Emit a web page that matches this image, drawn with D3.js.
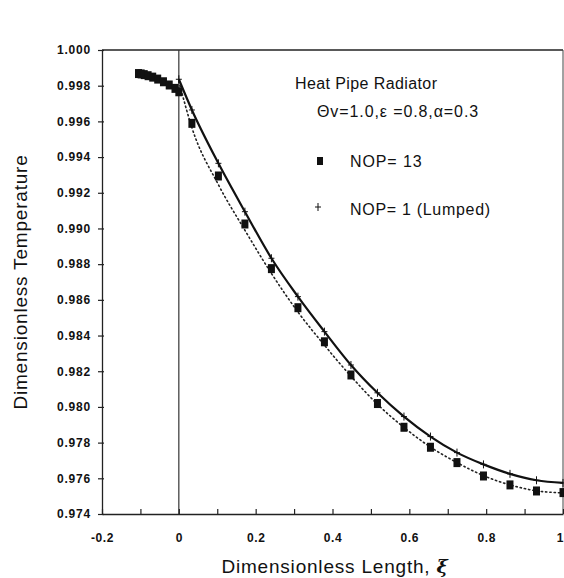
<!DOCTYPE html>
<html>
<head>
<meta charset="utf-8">
<script src="https://cdn.jsdelivr.net/npm/d3@7"></script>
<style>
  body { margin: 0; background: #fff; }
  svg { display: block; }
  text { font-family: "Liberation Sans", Arial, sans-serif; fill: #111; }
</style>
</head>
<body>
<svg id="chart" width="564" height="578"></svg>
<script>
// ---- data ----
const squareX = [-0.105, -0.098, -0.09, -0.08, -0.068, -0.055, -0.04, -0.025, -0.01,
                 0, 0.034, 0.103, 0.172, 0.241, 0.310, 0.379, 0.448, 0.517, 0.586, 0.655, 0.724, 0.793, 0.862, 0.931, 1.0];
const squareY = [0.99868, 0.99866, 0.99862, 0.99856, 0.99848, 0.99837, 0.99822, 0.99804, 0.99785,
                 0.99766, 0.99589, 0.99294, 0.99025, 0.98775, 0.98556, 0.98365, 0.98179, 0.98019, 0.97886, 0.97774, 0.97688, 0.97613, 0.97563, 0.97529, 0.97520];

const lumpedX = [0, 0.034, 0.103, 0.172, 0.241, 0.310, 0.379, 0.448, 0.517, 0.586, 0.655, 0.724, 0.793, 0.862, 0.931, 1.0];
const lumpedY = [0.99836, 0.99664, 0.99365, 0.99094, 0.98833, 0.98618, 0.98422, 0.98235, 0.98079, 0.97946, 0.97834, 0.97744, 0.97678, 0.97625, 0.97589, 0.97574];

const dottedX = [0, 0.034, 0.103, 0.172, 0.241, 0.310, 0.379, 0.448, 0.517, 0.586, 0.655, 0.724, 0.793, 0.862, 0.931, 1.0];
const dottedY = [0.99825, 0.99565, 0.99245, 0.98990, 0.98748, 0.98532, 0.98346, 0.98172, 0.98015, 0.97885, 0.97775, 0.97688, 0.97615, 0.97563, 0.97530, 0.97518];

const xTicks = [-0.2, -0.1, 0, 0.1, 0.2, 0.3, 0.4, 0.5, 0.6, 0.7, 0.8, 0.9, 1.0];
const xTickLabels = ["-0.2", "0", "0.2", "0.4", "0.6", "0.8", "1"];
const yTicks = [1.000, 0.998, 0.996, 0.994, 0.992, 0.990, 0.988, 0.986, 0.984, 0.982, 0.980, 0.978, 0.976, 0.974];

const titleText = "Heat Pipe Radiator";
const paramText = "\u0398v=1.0,\u03B5 =0.8,\u03B1=0.3";
const legendLabels = ["NOP= 13", "NOP= 1 (Lumped)"];
const xLabel = "Dimensionless Length, ";
const yLabel = "Dimensionless Temperature";

// ---- drawing ----
const svg = d3.select("#chart");
const mLeft = 102, mRight = 563, mTop = 50, mBottom = 514;

const x = d3.scaleLinear().domain([-0.2, 1.0]).range([mLeft, mRight]);
const y = d3.scaleLinear().domain([0.974, 1.000]).range([mBottom, mTop]);

// frame: top and right
svg.append("line").attr("x1", mLeft).attr("x2", mRight).attr("y1", mTop).attr("y2", mTop)
  .attr("stroke", "#222").attr("stroke-width", 1.3);
svg.append("line").attr("x1", mRight).attr("x2", mRight).attr("y1", mTop).attr("y2", mBottom)
  .attr("stroke", "#444").attr("stroke-width", 1);

// vertical line at x = 0
svg.append("line").attr("x1", x(0)).attr("x2", x(0)).attr("y1", mTop).attr("y2", mBottom)
  .attr("stroke", "#333").attr("stroke-width", 1.2);

// x axis (ticks inward)
const xAxis = d3.axisBottom(x).tickValues(xTicks).tickSizeInner(-5).tickSizeOuter(0)
  .tickFormat(d => {
    const lbl = xTickLabels.find(l => Math.abs(+l - d) < 1e-9);
    return lbl === undefined ? "" : lbl;
  });
const gx = svg.append("g").attr("transform", `translate(0,${mBottom})`).call(xAxis);
gx.select(".domain").attr("stroke", "#222").attr("stroke-width", 1.3);
gx.selectAll(".tick line").attr("stroke", "#222").attr("stroke-width", 1.2);
gx.selectAll(".tick text").attr("y", 28).attr("dy", 0)
  .style("font-family", "Liberation Sans, Arial, sans-serif").style("font-size", "12px")
  .style("font-weight", "bold").style("letter-spacing", "0.6px").attr("fill", "#111")
  .attr("x", d => Math.abs(d - 1) < 1e-9 ? -3 : 0);

// y axis
const yAxis = d3.axisLeft(y).tickValues(yTicks).tickSizeInner(4).tickSizeOuter(0)
  .tickFormat(d3.format(".3f"));
const gy = svg.append("g").attr("transform", `translate(${mLeft},0)`).call(yAxis);
gy.select(".domain").attr("stroke", "#222").attr("stroke-width", 1.3);
gy.selectAll(".tick line").attr("stroke", "#222").attr("stroke-width", 1.2).attr("x2", -4).attr("x1", 2);
gy.selectAll(".tick text").attr("x", -11)
  .style("font-family", "Liberation Sans, Arial, sans-serif").style("font-size", "12px")
  .style("font-weight", "bold").style("letter-spacing", "0.8px").attr("fill", "#111");

// dotted curve
const dottedData = dottedX.map((d, i) => [d, dottedY[i]]);
svg.append("path").datum(dottedData)
  .attr("d", d3.line().x(d => x(d[0])).y(d => y(d[1])).curve(d3.curveMonotoneX))
  .attr("fill", "none").attr("stroke", "#222").attr("stroke-width", 1.6)
  .attr("stroke-dasharray", "1.3,3").attr("stroke-linecap", "round");

// solid curve (lumped)
const lumpedData = lumpedX.map((d, i) => [d, lumpedY[i]]);
svg.append("path").datum(lumpedData)
  .attr("d", d3.line().x(d => x(d[0])).y(d => y(d[1])).curve(d3.curveMonotoneX))
  .attr("fill", "none").attr("stroke", "#111").attr("stroke-width", 2.2);

// + markers
const plus = svg.append("g");
lumpedData.forEach(d => {
  const cx = x(d[0]), cy = y(d[1]);
  plus.append("line").attr("x1", cx - 3).attr("x2", cx + 3).attr("y1", cy).attr("y2", cy)
    .attr("stroke", "#111").attr("stroke-width", 1);
  plus.append("line").attr("x1", cx).attr("x2", cx).attr("y1", cy - 4).attr("y2", cy + 4)
    .attr("stroke", "#111").attr("stroke-width", 1);
});

// square markers
const squareData = squareX.map((d, i) => [d, squareY[i]]);
svg.append("g").selectAll("rect").data(squareData).join("rect")
  .attr("x", d => x(d[0]) - 3.5).attr("y", d => y(d[1]) - 4.5)
  .attr("width", 7).attr("height", 9).attr("fill", "#111");

// legend / annotation
svg.append("text").attr("x", 295).attr("y", 89).style("font-size", "16px").style("letter-spacing", "0.4px").text(titleText);
svg.append("text").attr("x", 317).attr("y", 117).style("font-size", "16px").style("letter-spacing", "0.9px").text(paramText);
svg.append("rect").attr("x", 317).attr("y", 157).attr("width", 6).attr("height", 8).attr("fill", "#111");
svg.append("text").attr("x", 350).attr("y", 167).style("font-size", "16px").style("letter-spacing", "0.9px").text(legendLabels[0]);
svg.append("line").attr("x1", 315).attr("x2", 321).attr("y1", 207).attr("y2", 207).attr("stroke", "#111");
svg.append("line").attr("x1", 318).attr("x2", 318).attr("y1", 203).attr("y2", 211).attr("stroke", "#111");
svg.append("text").attr("x", 350).attr("y", 215).style("font-size", "16px").style("letter-spacing", "0.7px").text(legendLabels[1]);

// axis titles
const xt = svg.append("text").attr("x", 335).attr("y", 573).attr("text-anchor", "middle")
  .style("font-size", "19px").style("letter-spacing", "0.8px");
xt.append("tspan").text(xLabel);
xt.append("tspan").style("font-style", "italic").style("font-weight", "bold").style("font-family", "DejaVu Serif, serif").text("\u03BE");

svg.append("text").attr("transform", "translate(27,282) rotate(-90)").attr("text-anchor", "middle")
  .style("font-size", "19px").style("letter-spacing", "0.8px").text(yLabel);
</script>
</body>
</html>
